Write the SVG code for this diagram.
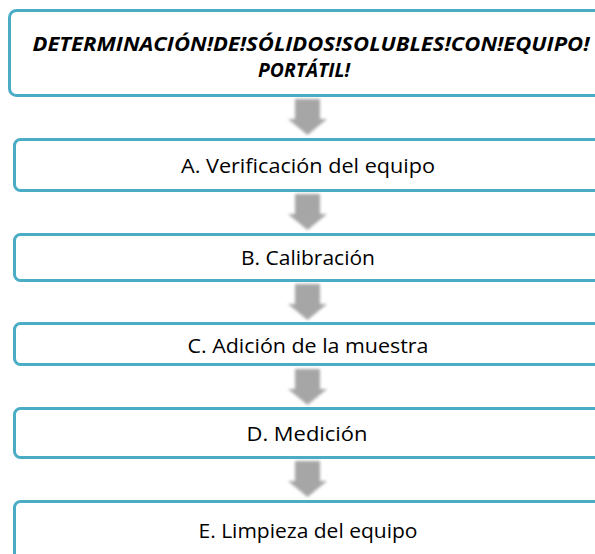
<svg xmlns="http://www.w3.org/2000/svg" width="595" height="554" viewBox="0 0 595 554">
<style>
.box{fill:#fff;stroke:#4BACC6;stroke-width:3}
.t{font-family:"Open Sans","Noto Sans",sans-serif;font-size:20.5px;fill:#000;text-anchor:middle}
.h{font-family:"Open Sans","Noto Sans",sans-serif;font-size:19px;font-weight:bold;font-style:italic;fill:#000;text-anchor:middle}
.arr{fill:#A6A6A6}
</style>
<defs>
<filter id="bl" x="-20%" y="-20%" width="140%" height="140%"><feGaussianBlur stdDeviation="1.5"/></filter>
<path id="ar" d="M-12,0 H13 V20 H20 L0.5,36 L-19,20 H-12 Z"/>
</defs>
<rect width="595" height="554" fill="#fff"/>
<g id="connectors">
<use href="#ar" class="arr" x="307" y="99" filter="url(#bl)"/>
<use href="#ar" class="arr" x="307" y="194" filter="url(#bl)"/>
<use href="#ar" class="arr" x="307" y="284" filter="url(#bl)"/>
<use href="#ar" class="arr" x="307" y="369" filter="url(#bl)"/>
<use href="#ar" class="arr" x="307" y="461" filter="url(#bl)"/>
</g>
<g id="title">
<rect class="box" x="9.5" y="10.5" width="610" height="85" rx="7"/>
<text class="h" x="311" y="51" textLength="557" lengthAdjust="spacingAndGlyphs">DETERMINACIÓN!DE!SÓLIDOS!SOLUBLES!CON!EQUIPO!</text>
<text class="h" x="304" y="77" textLength="92" lengthAdjust="spacingAndGlyphs">PORTÁTIL!</text>
</g>
<g id="a">
<rect class="box" x="14.5" y="139.5" width="600" height="51" rx="6"/>
<text class="t" x="308" y="173" textLength="254" lengthAdjust="spacingAndGlyphs">A. Verificación del equipo</text>
</g>
<g id="b">
<rect class="box" x="14.5" y="234.5" width="600" height="46" rx="6"/>
<text class="t" x="308" y="265" textLength="134" lengthAdjust="spacingAndGlyphs">B. Calibración</text>
</g>
<g id="c">
<rect class="box" x="14.5" y="323.5" width="600" height="41" rx="6"/>
<text class="t" x="308" y="353" textLength="241" lengthAdjust="spacingAndGlyphs">C. Adición de la muestra</text>
</g>
<g id="d">
<rect class="box" x="14.5" y="408.5" width="600" height="49" rx="6"/>
<text class="t" x="307" y="441" textLength="121" lengthAdjust="spacingAndGlyphs">D. Medición</text>
</g>
<g id="e">
<rect class="box" x="14.5" y="501.5" width="600" height="80" rx="6"/>
<text class="t" x="308" y="538" textLength="219" lengthAdjust="spacingAndGlyphs">E. Limpieza del equipo</text>
</g>
</svg>
